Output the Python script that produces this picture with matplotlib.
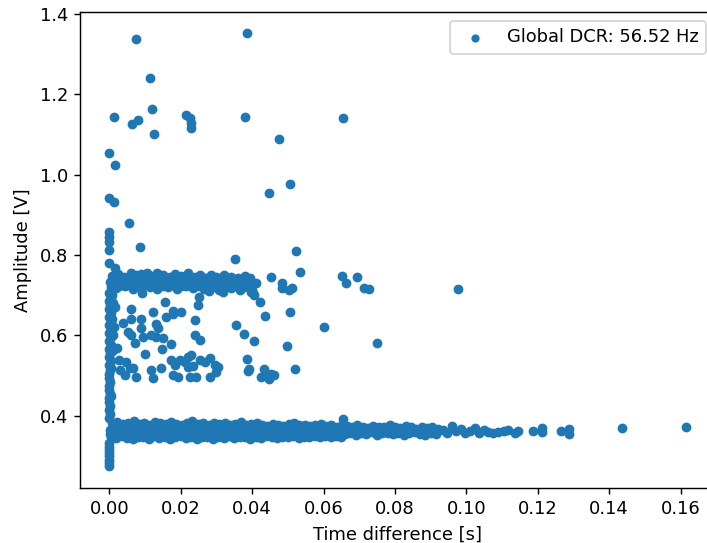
import matplotlib
matplotlib.use("Agg")
import matplotlib.pyplot as plt
import numpy as np

# values, grouped by region of the plot

# isolated high-amplitude events
outlier_x = [0.0074, 0.0385, 0.0114, 0.0120, 0.0014, 0.0063, 0.0080, 0.0125, 0.0214, 0.0226,
             0.0228, 0.0228, 0.0380, 0.0654, 0.0475, 0.0506, 0.0447, 0.0, 0.0016, 0.0,
             0.0014, 0.0055, 0.0, 0.0, 0.0, 0.0, 0.0]
outlier_y = [1.338, 1.352, 1.241, 1.163, 1.143, 1.126, 1.136, 1.100, 1.148, 1.140,
             1.128, 1.115, 1.144, 1.140, 1.089, 0.977, 0.955, 1.053, 1.024, 0.941,
             0.931, 0.880, 0.858, 0.846, 0.833, 0.812, 0.779]

# 2 p.e. band (~0.73 V)
upper_band_x = [0.0008, 0.0025, 0.0040, 0.0060, 0.0075, 0.0090, 0.0105, 0.0120, 0.0135, 0.0150,
                0.0170, 0.0185, 0.0200, 0.0220, 0.0240, 0.0255, 0.0270, 0.0285, 0.0300, 0.0320,
                0.0340, 0.0360, 0.0380, 0.0395,
                0.0012, 0.0030, 0.0048, 0.0070, 0.0087, 0.0102, 0.0118, 0.0132, 0.0147, 0.0165,
                0.0180, 0.0195, 0.0215, 0.0232, 0.0250, 0.0265, 0.0278, 0.0292, 0.0305, 0.0325,
                0.0345, 0.0365, 0.0385,
                0.0003, 0.0018, 0.0035, 0.0050, 0.0068, 0.0082, 0.0098, 0.0112, 0.0128, 0.0142,
                0.0160, 0.0175, 0.0190, 0.0210, 0.0230, 0.0245, 0.0260, 0.0280, 0.0295, 0.0310,
                0.0330, 0.0350, 0.0370, 0.0390, 0.0410,
                0.0010, 0.0028, 0.0055, 0.0078, 0.0100, 0.0125, 0.0150, 0.0178, 0.0200, 0.0225,
                0.0250, 0.0275, 0.0300, 0.0325, 0.0355, 0.0378,
                0.0005, 0.0020, 0.0045, 0.0065, 0.0090, 0.0115, 0.0135, 0.0165, 0.0190, 0.0215,
                0.0235, 0.0265, 0.0290, 0.0315, 0.0340, 0.0365, 0.0400]
upper_band_y = [0.748, 0.752, 0.746, 0.755, 0.749, 0.753, 0.756, 0.747, 0.754, 0.750,
                0.745, 0.753, 0.748, 0.754, 0.746, 0.751, 0.744, 0.749, 0.745, 0.751,
                0.746, 0.742, 0.747, 0.743,
                0.741, 0.744, 0.739, 0.742, 0.745, 0.740, 0.743, 0.741, 0.744, 0.739,
                0.742, 0.745, 0.740, 0.743, 0.738, 0.742, 0.739, 0.741, 0.737, 0.740,
                0.738, 0.741, 0.736,
                0.734, 0.730, 0.737, 0.731, 0.728, 0.735, 0.731, 0.738, 0.732, 0.729,
                0.736, 0.731, 0.727, 0.734, 0.730, 0.737, 0.728, 0.732, 0.726, 0.735,
                0.730, 0.725, 0.734, 0.729, 0.731,
                0.726, 0.724, 0.727, 0.723, 0.725, 0.726, 0.722, 0.725, 0.724, 0.727,
                0.723, 0.722, 0.725, 0.721, 0.724, 0.720,
                0.720, 0.717, 0.722, 0.716, 0.719, 0.721, 0.715, 0.720, 0.716, 0.722,
                0.718, 0.715, 0.720, 0.716, 0.719, 0.714, 0.713]

# scattered events between the bands
mid_x = [0.0016, 0.0086, 0.0351, 0.0523, 0.0534, 0.0453, 0.0485, 0.0485, 0.0502, 0.0513,
         0.0653, 0.0664, 0.0695, 0.0713, 0.0727, 0.0978, 0.0750, 0.0602,
         0.0155, 0.0250, 0.0248, 0.0062, 0.0121, 0.0179, 0.0179, 0.0202, 0.0160, 0.0037,
         0.0062, 0.0090, 0.0130, 0.0137, 0.0241, 0.0090, 0.0053, 0.0062, 0.0095, 0.0118,
         0.0132, 0.0151, 0.0072, 0.0239, 0.0253, 0.0174, 0.0148, 0.0100, 0.0174, 0.0183,
         0.0028, 0.0048, 0.0058, 0.0030, 0.0044, 0.0067, 0.0074, 0.0118, 0.0123, 0.0146,
         0.0197, 0.0211, 0.0220, 0.0230, 0.0220, 0.0234, 0.0253, 0.0267, 0.0281, 0.0295,
         0.0300, 0.0179, 0.0192, 0.0225, 0.0244, 0.0281,
         0.0397, 0.0406, 0.0423, 0.0507, 0.0436, 0.0355, 0.0377, 0.0406, 0.0498, 0.0386,
         0.0304, 0.0388, 0.0392, 0.0434, 0.0439, 0.0462, 0.0453, 0.0521, 0.0425, 0.0448,
         0.0011, 0.0021, 0.0016, 0.0011, 0.0279, 0.0307, 0.0319, 0.0091, 0.0403,
         0.0008, 0.0009, 0.0007, 0.0010, 0.0012, 0.0006, 0.0008, 0.0006, 0.0655]
mid_y = [0.767, 0.821, 0.789, 0.811, 0.757, 0.746, 0.731, 0.719, 0.713, 0.717,
         0.748, 0.730, 0.745, 0.717, 0.715, 0.715, 0.580, 0.622,
         0.684, 0.696, 0.676, 0.666, 0.657, 0.661, 0.652, 0.657, 0.646, 0.632,
         0.640, 0.641, 0.628, 0.619, 0.638, 0.619, 0.608, 0.601, 0.595, 0.601,
         0.595, 0.593, 0.580, 0.601, 0.588, 0.578, 0.565, 0.554, 0.539, 0.526,
         0.539, 0.534, 0.520, 0.514, 0.501, 0.518, 0.497, 0.514, 0.493, 0.520,
         0.539, 0.534, 0.547, 0.551, 0.522, 0.524, 0.539, 0.534, 0.543, 0.526,
         0.509, 0.501, 0.497, 0.497, 0.497, 0.497,
         0.709, 0.700, 0.682, 0.657, 0.648, 0.626, 0.603, 0.587, 0.574, 0.541,
         0.522, 0.512, 0.516, 0.516, 0.505, 0.501, 0.503, 0.516, 0.497, 0.491,
         0.676, 0.568, 0.671, 0.564, 0.710, 0.713, 0.709, 0.705, 0.705,
         0.560, 0.600, 0.640, 0.680, 0.620, 0.520, 0.700, 0.450, 0.392]

# afterpulses at very short time difference
line_x = [0.0, 0.0, 0.0, 0.0, 0.0, 0.0, 0.0, 0.0, 0.0, 0.0002,
          0.0, 0.0003, 0.0, 0.0, 0.0002, 0.0, 0.0, 0.0003, 0.0, 0.0,
          0.0002, 0.0, 0.0004, 0.0, 0.0003, 0.0, 0.0005, 0.0, 0.0004, 0.0,
          0.0005, 0.0, 0.0004, 0.0, 0.0005, 0.0, 0.0003, 0.0, 0.0004, 0.0]
line_y = [0.276, 0.283, 0.291, 0.299, 0.307, 0.315, 0.323, 0.331, 0.395, 0.405,
          0.415, 0.425, 0.435, 0.445, 0.455, 0.465, 0.475, 0.485, 0.495, 0.505,
          0.515, 0.525, 0.535, 0.545, 0.555, 0.565, 0.575, 0.585, 0.595, 0.605,
          0.615, 0.625, 0.635, 0.645, 0.655, 0.665, 0.675, 0.685, 0.695, 0.705]

# 1 p.e. band (~0.36 V)
low_band_x = [0.0008, 0.0022, 0.0038, 0.0052, 0.0068, 0.0083, 0.0097, 0.0112, 0.0128, 0.0143,
              0.0158, 0.0172, 0.0188, 0.0203, 0.0217, 0.0233, 0.0248, 0.0262, 0.0278, 0.0293,
              0.0307, 0.0323, 0.0338, 0.0352, 0.0368, 0.0383, 0.0397, 0.0413, 0.0428, 0.0442,
              0.0458, 0.0473, 0.0487, 0.0503, 0.0518, 0.0532, 0.0548, 0.0563, 0.0577, 0.0593,
              0.0608, 0.0622, 0.0638, 0.0652,
              0.0012, 0.0028, 0.0045, 0.0060, 0.0076, 0.0090, 0.0106, 0.0120, 0.0136, 0.0150,
              0.0166, 0.0180, 0.0196, 0.0210, 0.0226, 0.0240, 0.0256, 0.0270, 0.0286, 0.0300,
              0.0316, 0.0330, 0.0346, 0.0360, 0.0376, 0.0390, 0.0406, 0.0420, 0.0436, 0.0450,
              0.0466, 0.0480, 0.0496, 0.0510, 0.0526, 0.0540, 0.0556, 0.0570, 0.0586, 0.0600,
              0.0616, 0.0630, 0.0646,
              0.0001, 0.0015, 0.0030, 0.0045, 0.0060, 0.0075, 0.0090, 0.0105, 0.0120, 0.0135,
              0.0150, 0.0165, 0.0180, 0.0195, 0.0210, 0.0225, 0.0240, 0.0255, 0.0270, 0.0285,
              0.0300, 0.0315, 0.0330, 0.0345, 0.0360, 0.0375, 0.0390, 0.0405, 0.0420, 0.0435,
              0.0450, 0.0465, 0.0480, 0.0495, 0.0510, 0.0525, 0.0540, 0.0555, 0.0570, 0.0585,
              0.0600, 0.0615, 0.0630, 0.0645,
              0.0003, 0.0018, 0.0034, 0.0050, 0.0066, 0.0082, 0.0098, 0.0114, 0.0130, 0.0146,
              0.0162, 0.0178, 0.0194, 0.0210, 0.0226, 0.0242, 0.0258, 0.0274, 0.0290, 0.0306,
              0.0322, 0.0338, 0.0354, 0.0370, 0.0386, 0.0402, 0.0418, 0.0434, 0.0450, 0.0466,
              0.0482, 0.0498, 0.0514, 0.0530, 0.0546, 0.0562, 0.0578, 0.0594, 0.0610, 0.0626,
              0.0642, 0.0658,
              0.0005, 0.0020, 0.0035, 0.0050, 0.0065, 0.0080, 0.0095, 0.0110, 0.0125, 0.0140,
              0.0155, 0.0170, 0.0185, 0.0200, 0.0215, 0.0230, 0.0245, 0.0260, 0.0275, 0.0290,
              0.0305, 0.0320, 0.0335, 0.0350, 0.0365, 0.0380, 0.0395, 0.0410, 0.0425, 0.0440,
              0.0455, 0.0470, 0.0485, 0.0500, 0.0515, 0.0530, 0.0545, 0.0560, 0.0575, 0.0590,
              0.0605, 0.0620, 0.0635, 0.0650,
              0.0665, 0.0680, 0.0695, 0.0710, 0.0725, 0.0740, 0.0755, 0.0770, 0.0785, 0.0800,
              0.0815, 0.0830, 0.0845, 0.0860, 0.0875, 0.0890, 0.0905, 0.0920,
              0.0668, 0.0685, 0.0702, 0.0718, 0.0735, 0.0752, 0.0768, 0.0785, 0.0802, 0.0818,
              0.0835, 0.0852, 0.0868, 0.0885, 0.0902, 0.0918,
              0.0660, 0.0675, 0.0690, 0.0705, 0.0720, 0.0735, 0.0750, 0.0765, 0.0780, 0.0795,
              0.0810, 0.0825, 0.0840, 0.0855, 0.0870, 0.0885, 0.0900, 0.0915]
low_band_y = [0.381, 0.384, 0.379, 0.383, 0.386, 0.380, 0.382, 0.378, 0.385, 0.381,
              0.379, 0.384, 0.380, 0.377, 0.383, 0.387, 0.379, 0.381, 0.376, 0.382,
              0.379, 0.383, 0.377, 0.380, 0.384, 0.376, 0.379, 0.381, 0.377, 0.375,
              0.380, 0.378, 0.374, 0.379, 0.383, 0.376, 0.378, 0.374, 0.377, 0.380,
              0.375, 0.378, 0.373, 0.376,
              0.372, 0.374, 0.371, 0.373, 0.375, 0.371, 0.373, 0.370, 0.374, 0.372,
              0.371, 0.374, 0.372, 0.370, 0.373, 0.375, 0.371, 0.372, 0.370, 0.373,
              0.371, 0.374, 0.370, 0.372, 0.373, 0.369, 0.371, 0.372, 0.370, 0.371,
              0.372, 0.369, 0.371, 0.373, 0.370, 0.371, 0.369, 0.372, 0.370, 0.371,
              0.369, 0.371, 0.370,
              0.365, 0.362, 0.366, 0.361, 0.364, 0.367, 0.362, 0.365, 0.360, 0.366,
              0.363, 0.361, 0.365, 0.362, 0.367, 0.363, 0.360, 0.364, 0.366, 0.361,
              0.363, 0.365, 0.362, 0.360, 0.364, 0.366, 0.361, 0.363, 0.365, 0.360,
              0.362, 0.364, 0.361, 0.366, 0.362, 0.360, 0.364, 0.362, 0.365, 0.361,
              0.363, 0.360, 0.364, 0.362,
              0.355, 0.353, 0.356, 0.354, 0.357, 0.355, 0.353, 0.356, 0.354, 0.355,
              0.357, 0.354, 0.355, 0.353, 0.356, 0.354, 0.355, 0.357, 0.353, 0.355,
              0.354, 0.356, 0.353, 0.355, 0.357, 0.354, 0.355, 0.356, 0.354, 0.355,
              0.356, 0.354, 0.355, 0.357, 0.355, 0.354, 0.356, 0.355, 0.357, 0.355,
              0.356, 0.357,
              0.347, 0.344, 0.349, 0.345, 0.342, 0.348, 0.346, 0.343, 0.349, 0.345,
              0.347, 0.342, 0.346, 0.349, 0.344, 0.347, 0.341, 0.346, 0.348, 0.343,
              0.347, 0.345, 0.349, 0.344, 0.346, 0.348, 0.343, 0.347, 0.345, 0.349,
              0.346, 0.344, 0.348, 0.346, 0.350, 0.345, 0.348, 0.347, 0.350, 0.346,
              0.349, 0.347, 0.350, 0.348,
              0.374, 0.371, 0.376, 0.372, 0.370, 0.375, 0.371, 0.373, 0.377, 0.372,
              0.369, 0.374, 0.371, 0.368, 0.373, 0.370, 0.372, 0.368,
              0.364, 0.363, 0.365, 0.362, 0.364, 0.366, 0.363, 0.364, 0.362, 0.365,
              0.363, 0.364, 0.362, 0.363, 0.364, 0.362,
              0.355, 0.358, 0.353, 0.357, 0.354, 0.359, 0.352, 0.356, 0.358, 0.354,
              0.357, 0.353, 0.356, 0.359, 0.355, 0.352, 0.357, 0.354]

# long time differences
tail_x = [0.0935, 0.0945, 0.0959, 0.0970, 0.0985, 0.0995, 0.1010, 0.1025, 0.1035, 0.1050,
          0.1060, 0.1075, 0.1090, 0.1105, 0.1118, 0.1136, 0.1146, 0.1186, 0.1213, 0.1213,
          0.1265, 0.1287, 0.1287, 0.1435, 0.1615]
tail_y = [0.365, 0.357, 0.375, 0.361, 0.366, 0.356, 0.363, 0.369, 0.358, 0.364,
          0.360, 0.357, 0.359, 0.362, 0.364, 0.358, 0.361, 0.362, 0.370, 0.359,
          0.361, 0.366, 0.355, 0.369, 0.373]

dcr_hz = 56.52

time_diff = np.concatenate([outlier_x, upper_band_x, mid_x, line_x, low_band_x, tail_x])
amplitude = np.concatenate([outlier_y, upper_band_y, mid_y, line_y, low_band_y, tail_y])

dpi = 128.5
fig = plt.figure(figsize=(707 / dpi, 543 / dpi), dpi=dpi)
ax = fig.add_axes([0.1137, 0.1018, 0.8973, 0.8755])

ax.scatter(time_diff, amplitude, s=20, color="C0", label="Global DCR: {:.2f} Hz".format(dcr_hz))

ax.set_xlim(-0.0081, 0.1696)
ax.set_ylim(0.2208, 1.404)
ax.set_xlabel("Time difference [s]")
ax.set_ylabel("Amplitude [V]")
ax.legend(loc="upper right", markerscale=0.8)

fig.savefig("out.png", dpi=dpi)
